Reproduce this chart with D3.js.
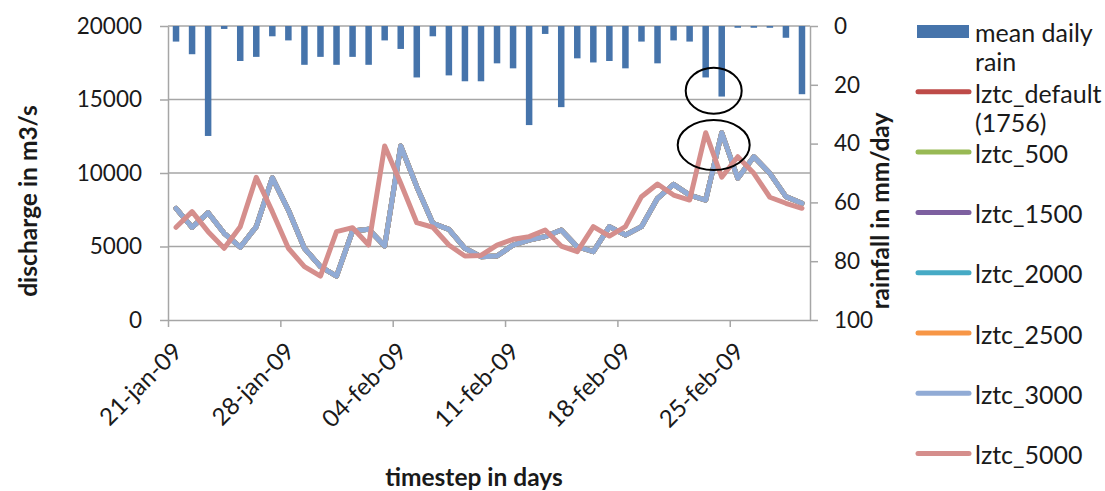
<!DOCTYPE html>
<html>
<head>
<meta charset="utf-8">
<script src="https://cdn.jsdelivr.net/npm/d3@7"></script>
<style>
  html, body { margin: 0; padding: 0; background: #fff; }
  svg { display: block; }
  text { font-family: Lato, "Open Sans", sans-serif; fill: #1a1a1a; }
</style>
</head>
<body>
<svg id="chart" width="1105" height="491"></svg>
<script>
// Daily timesteps: 21 Jan 2009 up to and including 1 Mar 2009
const startDay = new Date(Date.UTC(2009, 0, 21));
const endDay = new Date(Date.UTC(2009, 2, 2));
const days = d3.utcDay.range(startDay, endDay);

const tickLabels = ["21-jan-09", "28-jan-09", "04-feb-09", "11-feb-09", "18-feb-09", "25-feb-09"];
const dischargeTicks = [0, 5000, 10000, 15000, 20000];
const rainTicks = [0, 20, 40, 60, 80, 100];

// mean daily rain, mm/day
const rain = [5.3, 9.6, 37.4, 1.0, 11.9, 10.5, 3.5, 4.9, 13.2, 10.5,
              13.2, 10.5, 13.2, 4.9, 7.8, 17.5, 3.5, 16.8, 18.8, 18.8,
              12.7, 14.4, 33.7, 2.7, 27.6, 11.0, 12.4, 11.9, 14.4, 5.3,
              12.7, 4.9, 5.3, 17.5, 24.0, 0.6, 0.6, 0.6, 4.0, 23.2];

// simulated discharge (m3/s); runs with lztc up to 3000 give the same hydrograph
const lztcUpTo3000 = [7600, 6300, 7300, 5900, 4950, 6350, 9680, 7480, 4880, 3630,
                      2990, 6060, 6170, 5030, 11840, 9070, 6580, 6170, 4880, 4310,
                      4350, 5100, 5440, 5670, 6120, 4990, 4650, 6350, 5780, 6350,
                      8280, 9230, 8500, 8160, 12740, 9640, 11110, 9980, 8390, 7940];
const lztc5000 = [6310, 7370, 6010, 4880, 6350, 9710, 7370, 4880, 3630, 2990,
                  6010, 6280, 5100, 11840, 9300, 6620, 6310, 5100, 4350, 4390,
                  5100, 5490, 5670, 6120, 5030, 4650, 6350, 5710, 6350, 8390,
                  9250, 8500, 8160, 12740, 9710, 11110, 9980, 8350, 7940, 7600];

const lineNames = ["lztc_default (1756)", "lztc_500", "lztc_1500", "lztc_2000", "lztc_2500", "lztc_3000", "lztc_5000"];
const lineValues = [lztcUpTo3000, lztcUpTo3000, lztcUpTo3000, lztcUpTo3000, lztcUpTo3000, lztcUpTo3000, lztc5000];
const lineColors = ["#be4b48", "#98b954", "#7d60a0", "#46aac5", "#f79646", "#91abd5", "#d58e8c"];
const rainName = "mean daily rain";
const rainColor = "#4674ab";

const svg = d3.select("#chart");
svg.append("rect").attr("width", 1105).attr("height", 491).attr("fill", "#fff");

const plotLeft = 168, plotRight = 810, plotTop = 26, plotBottom = 320;
const axisGray = "#a6a6a6";

const x = d3.scaleUtc().domain([startDay, endDay]).range([plotLeft, plotRight]);
const yQ = d3.scaleLinear().domain([0, 20000]).range([plotBottom, plotTop]);
const yR = d3.scaleLinear().domain([0, 100]).range([plotTop, plotBottom]);
const mid = d => d3.utcHour.offset(d, 12);

// horizontal gridlines on the discharge axis
svg.append("g").selectAll("line").data(dischargeTicks.filter(v => v > 0)).join("line")
  .attr("x1", plotLeft).attr("x2", plotRight)
  .attr("y1", d => yQ(d)).attr("y2", d => yQ(d))
  .attr("stroke", axisGray).attr("stroke-width", 1.5);

// rain bars hanging from the top (reversed secondary axis)
svg.append("g").selectAll("rect").data(rain).join("rect")
  .attr("x", (d, i) => x(mid(days[i])) - 3.25)
  .attr("width", 6.5)
  .attr("y", yR(0))
  .attr("height", d => yR(d) - yR(0))
  .attr("fill", rainColor);

// axes
function styleAxis(g, size) {
  g.selectAll("path.domain").attr("stroke", axisGray).attr("stroke-width", 1.5);
  g.selectAll(".tick line").attr("stroke", axisGray).attr("stroke-width", 1.5);
  g.selectAll(".tick text").attr("fill", "#1a1a1a").style("font-size", size + "px")
    .style("font-family", "Lato, sans-serif");
}

const gL = svg.append("g").attr("transform", `translate(${plotLeft},0)`)
  .call(d3.axisLeft(yQ).tickValues(dischargeTicks).tickSize(8).tickSizeOuter(0).tickPadding(18)
    .tickFormat(d3.format("d")));
styleAxis(gL, 22.5);

const gR = svg.append("g").attr("transform", `translate(${plotRight},0)`)
  .call(d3.axisRight(yR).tickValues(rainTicks).tickSize(8).tickSizeOuter(0).tickPadding(16));
styleAxis(gR, 22.5);

const tickDates = tickLabels.map((t, k) => d3.utcDay.offset(startDay, 7 * k));
const gB = svg.append("g").attr("transform", `translate(0,${plotBottom})`)
  .call(d3.axisBottom(x).tickValues(tickDates).tickSize(7).tickSizeOuter(0)
    .tickFormat((d, k) => tickLabels[k]));
styleAxis(gB, 24);
gB.selectAll(".tick text")
  .attr("text-anchor", "end")
  .attr("dy", null)
  .attr("y", null)
  .attr("transform", "translate(15,33) rotate(-45)");

// discharge lines
const line = d3.line().x((d, i) => x(mid(days[i]))).y(d => yQ(d));
svg.append("g").selectAll("path").data(lineValues).join("path")
  .attr("d", d => line(d))
  .attr("fill", "none")
  .attr("stroke", (d, i) => lineColors[i])
  .attr("stroke-width", 5)
  .attr("stroke-linejoin", "round")
  .attr("stroke-linecap", "round");

// annotation ellipses: rain on 24-25 feb and the peaks that follow
const ringX = x(d3.utcDay.offset(startDay, 34));
svg.append("ellipse").attr("cx", ringX).attr("cy", yR(22))
  .attr("rx", 28).attr("ry", 23)
  .attr("fill", "none").attr("stroke", "#000").attr("stroke-width", 2);
svg.append("ellipse").attr("cx", ringX).attr("cy", yQ(11900))
  .attr("rx", 36).attr("ry", 25)
  .attr("fill", "none").attr("stroke", "#000").attr("stroke-width", 2);

// axis titles
svg.append("text")
  .attr("transform", "translate(37,201) rotate(-90)")
  .attr("text-anchor", "middle")
  .style("font-size", "24.5px").style("font-weight", "bold")
  .text("discharge in m3/s");
svg.append("text")
  .attr("transform", "translate(889,211) rotate(-90)")
  .attr("text-anchor", "middle")
  .style("font-size", "24.5px").style("font-weight", "bold")
  .text("rainfall in mm/day");
svg.append("text")
  .attr("x", 474).attr("y", 486)
  .attr("text-anchor", "middle")
  .style("font-size", "24.5px").style("font-weight", "bold")
  .text("timestep in days");

// legend
const legendItems = [{ name: rainName, color: rainColor, bar: true }]
  .concat(lineNames.map((n, i) => ({ name: n, color: lineColors[i], bar: false })));
const lg = svg.append("g");
const textX = 975, maxW = 126;
legendItems.forEach((item, i) => {
  const cy = 31.5 + i * 60.3;
  if (item.bar) {
    lg.append("rect").attr("x", 917).attr("y", cy - 6.5).attr("width", 52).attr("height", 13)
      .attr("fill", item.color);
  } else {
    lg.append("line").attr("x1", 918).attr("x2", 969).attr("y1", cy).attr("y2", cy)
      .attr("stroke", item.color).attr("stroke-width", 5).attr("stroke-linecap", "round");
  }
  const t = lg.append("text").attr("x", textX).attr("y", cy + 2).style("font-size", "25px");
  // word wrap within the legend column
  const words = item.name.split(" ");
  let current = [];
  let span = t.append("tspan").attr("x", textX).attr("dy", "0.35em");
  words.forEach(w => {
    current.push(w);
    span.text(current.join(" "));
    if (span.node().getComputedTextLength() > maxW && current.length > 1) {
      current.pop();
      span.text(current.join(" "));
      current = [w];
      span = t.append("tspan").attr("x", textX).attr("dy", "29px").text(w);
    }
  });
});
</script>
</body>
</html>
